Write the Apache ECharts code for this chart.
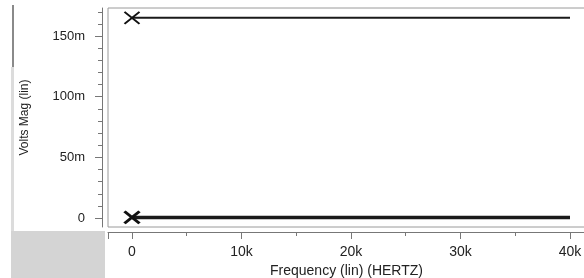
<!DOCTYPE html>
<html>
<head>
  <meta charset="utf-8">
  <title>Volts Mag vs Frequency</title>
  <style>
    html, body {
      margin: 0;
      padding: 0;
      background: #fff;
    }

    #chart {
      width: 584px;
      height: 278px;
    }
  </style>
</head>
<body>
  <div id="chart"></div>
</body>
<script src="https://cdn.jsdelivr.net/npm/echarts@6/dist/echarts.min.js"></script>
<script>
  // data (volts / hertz)
  var freqHz = [0, 40000];
  var traceTop = [0.165, 0.165];
  var traceBottom = [0.0005, 0.0005];

  // tick values
  var xMin = -2190;
  var xMax = 41370;
  var xMajorTicks = [0, 10000, 20000, 30000, 40000];
  var xMinorTicks = [5000, 15000, 25000, 35000];
  var yMin = -0.0074;
  var yMax = 0.1731;
  var yMajorTicks = [0, 0.05, 0.1, 0.15];
  var yMinorTicks = [0.01, 0.02, 0.03, 0.04, 0.06, 0.07, 0.08, 0.09, 0.11, 0.12, 0.13, 0.14, 0.16, 0.17];

  var font = 'Liberation Sans, Arial, sans-serif';
  var xMark = 'path://M0,0L14,11M14,0L0,11';

  function buildData(values, markSize, markWidth) {
    return freqHz.map(function (f, i) {
      var item = { value: [f, values[i]] };
      if (i === 0) {
        item.symbol = xMark;
        item.symbolSize = markSize;
        item.itemStyle = { color: 'transparent', borderColor: '#111', borderWidth: markWidth };
      } else {
        item.symbol = 'none';
      }
      return item;
    });
  }

  var chart = echarts.init(document.getElementById('chart'));

  var option = {
    animation: false,
    graphic: [
      // grey frame bits left over from the screenshot
      { type: 'rect', shape: { x: 12, y: 5, width: 2, height: 62 }, style: { fill: '#8a8a8a' } },
      { type: 'rect', shape: { x: 11, y: 67, width: 3, height: 164 }, style: { fill: '#dcdcdc' } },
      { type: 'rect', shape: { x: 11, y: 231, width: 94, height: 47 }, style: { fill: '#d4d4d4' } }
    ],
    grid: {
      left: 108,
      top: 8,
      right: -1,
      bottom: 51,
      show: true,
      borderColor: '#9a9a9a',
      borderWidth: 1,
      outerBoundsMode: 'none'
    },
    xAxis: [{
      type: 'value',
      position: 'bottom',
      min: xMin,
      max: xMax,
      offset: 5,
      name: 'Frequency (lin) (HERTZ)',
      nameLocation: 'middle',
      nameGap: 28,
      nameTextStyle: { color: '#222', fontSize: 14, fontFamily: font },
      axisLine: { show: true, onZero: false, lineStyle: { color: '#777', width: 1 } },
      axisTick: { show: true, length: 7, customValues: [xMin].concat(xMajorTicks), lineStyle: { color: '#777' } },
      axisLabel: {
        customValues: xMajorTicks,
        margin: 13,
        color: '#222',
        fontSize: 14,
        fontFamily: font,
        formatter: function (v) { return v === 0 ? '0' : (v / 1000) + 'k'; }
      },
      splitLine: { show: false }
    }, {
      type: 'value',
      position: 'bottom',
      min: xMin,
      max: xMax,
      offset: 5,
      axisLine: { show: false, onZero: false },
      axisTick: { show: true, length: 4, customValues: xMinorTicks, lineStyle: { color: '#777' } },
      axisLabel: { show: false },
      splitLine: { show: false }
    }],
    yAxis: [{
      type: 'value',
      position: 'left',
      min: yMin,
      max: yMax,
      offset: 6,
      name: 'Volts Mag (lin)',
      nameLocation: 'middle',
      nameGap: 71,
      nameTextStyle: { color: '#222', fontSize: 12, fontFamily: font },
      axisLine: { show: true, onZero: false, lineStyle: { color: '#777', width: 1 } },
      axisTick: { show: true, length: 7, customValues: yMajorTicks, lineStyle: { color: '#777' } },
      axisLabel: {
        customValues: yMajorTicks,
        margin: 17,
        color: '#222',
        fontSize: 13,
        fontFamily: font,
        formatter: function (v) { return v === 0 ? '0' : Math.round(v * 1000) + 'm'; }
      },
      splitLine: { show: false }
    }, {
      type: 'value',
      position: 'left',
      min: yMin,
      max: yMax,
      offset: 6,
      axisLine: { show: false, onZero: false },
      axisTick: { show: true, length: 4, customValues: yMinorTicks, lineStyle: { color: '#777' } },
      axisLabel: { show: false },
      splitLine: { show: false }
    }],
    series: [{
      type: 'line',
      xAxisIndex: 0,
      yAxisIndex: 0,
      data: buildData(traceTop, [15, 12], 1.8),
      lineStyle: { color: '#1a1a1a', width: 2 },
      z: 3
    }, {
      type: 'line',
      xAxisIndex: 0,
      yAxisIndex: 0,
      data: buildData(traceBottom, [15, 12], 3),
      lineStyle: { color: '#1a1a1a', width: 3.5 },
      z: 3
    }]
  };

  chart.setOption(option);
</script>
</html>
